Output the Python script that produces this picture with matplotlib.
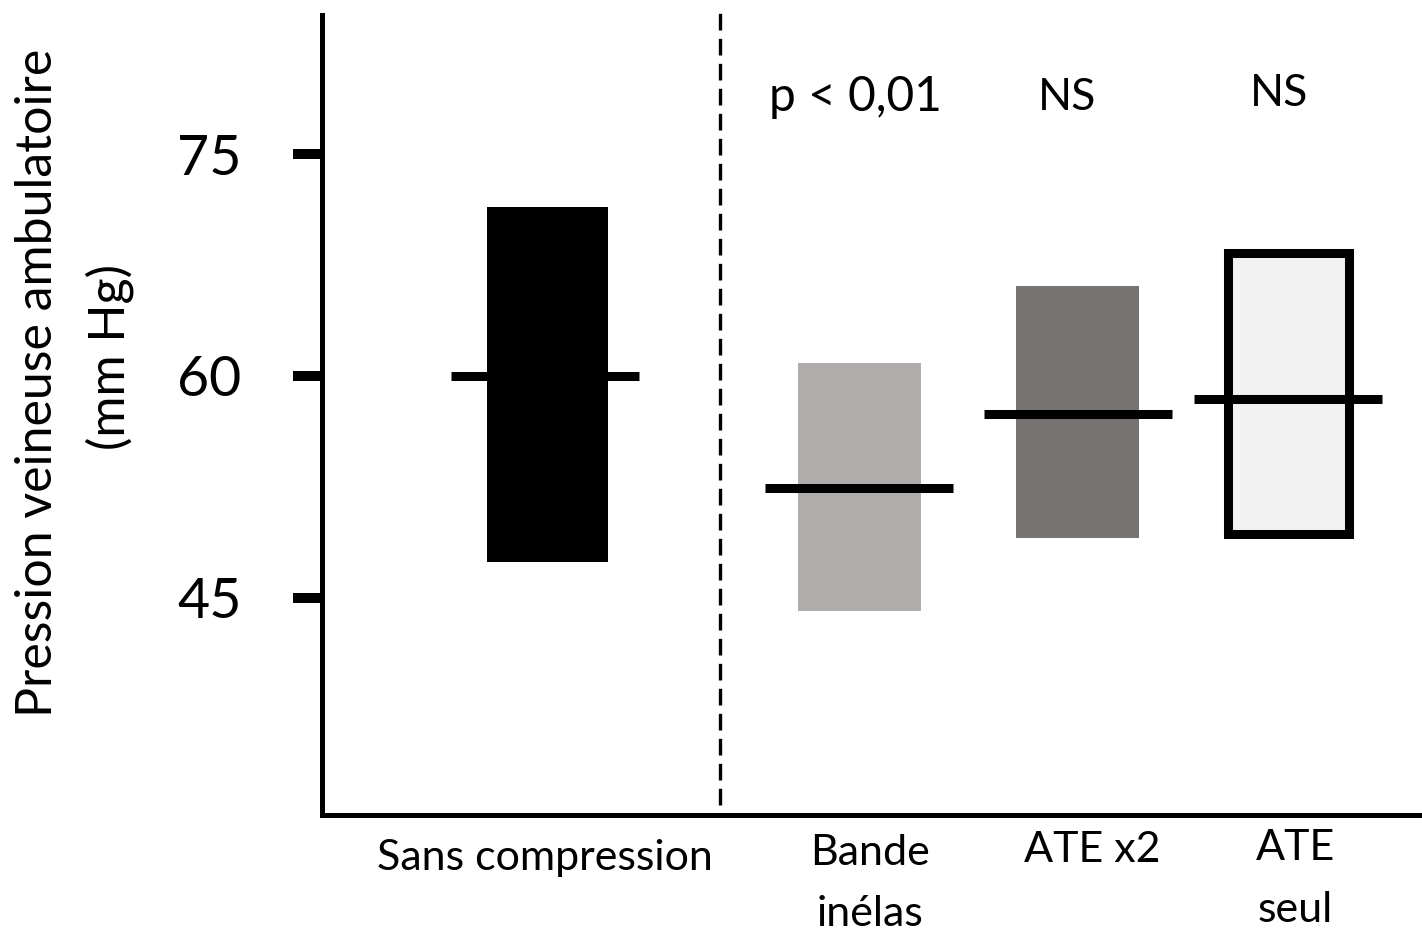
import matplotlib.pyplot as plt
from matplotlib.patches import Rectangle

# values (mm Hg)
groups = ["Sans compression", "Bande\ninélas", "ATE x2", "ATE\nseul"]
box_low = [47.4, 44.1, 49.0, 49.3]
box_high = [71.4, 60.9, 66.1, 68.3]
means = [60.0, 52.4, 57.4, 58.4]
stats = ["", "p < 0,01", "NS", "NS"]
yticks = [45, 60, 75]

# layout (x in axis units, 0..11)
box_x = [2.255, 5.375, 7.555, 9.66]
box_w = [1.21, 1.23, 1.23, 1.21]
mean_x = [2.23, 5.37, 7.555, 9.66]
mean_half = 0.94
label_x = [2.23, 5.48, 7.70, 9.73]
label_y = [-0.054, -0.0856, -0.044, -0.080]
stat_x = [0, 5.33, 7.45, 9.57]
stat_y = [0, 0.8975, 0.8975, 0.9025]
stat_size = [0, 34.5, 32, 32]
faces = ["black", "#b0acac", "#787373", "#f2f2f2"]
edges = ["none", "none", "none", "black"]

plt.rcParams['font.family'] = ['Lato', 'DejaVu Sans']

fig = plt.figure(figsize=(14.22, 9.41), dpi=100)
ax = fig.add_axes([322/1422, 1 - 815/941, 1 - 322/1422, 800/941])
ax.set_xlim(0, 11)
ax.set_ylim(30.3, 84.4)

for i in range(len(groups)):
    lw = 6.5 if edges[i] != "none" else 0
    ax.add_patch(Rectangle((box_x[i] - box_w[i]/2, box_low[i]), box_w[i],
                           box_high[i] - box_low[i], facecolor=faces[i],
                           edgecolor=edges[i], linewidth=lw, zorder=2))
    ax.plot([mean_x[i] - mean_half, mean_x[i] + mean_half], [means[i], means[i]],
            color="black", linewidth=6.5, solid_capstyle="butt", zorder=3)
    ax.text(label_x[i], label_y[i], groups[i], transform=ax.get_xaxis_transform(),
            ha="center", va="center", fontsize=31, linespacing=1.75)
    if stats[i]:
        ax.text(stat_x[i], stat_y[i], stats[i], transform=ax.get_xaxis_transform(),
                ha="center", va="center", fontsize=stat_size[i])

# separator between control and compression groups
ax.axvline(3.98, ymin=0.0125, ymax=1.0063, color="black", linewidth=2.4,
           linestyle=(0, (5, 2.5)), clip_on=False)

for s in ["top", "right"]:
    ax.spines[s].set_visible(False)
ax.spines["left"].set_linewidth(3.6)
ax.spines["bottom"].set_linewidth(3.6)

ax.set_yticks(yticks)
ax.set_yticklabels([str(v) for v in yticks], fontsize=40)
ax.tick_params(axis="y", length=21, width=7.2, pad=37, direction="out")
ax.set_xticks([])

fig.text(38/1422, 1 - 383/941, "Pression veineuse ambulatoire", rotation=90,
         ha="center", va="center", fontsize=36)
fig.text(110/1422, 1 - 357/941, "(mm Hg)", rotation=90,
         ha="center", va="center", fontsize=36)

fig.savefig("out.png", dpi=100)
